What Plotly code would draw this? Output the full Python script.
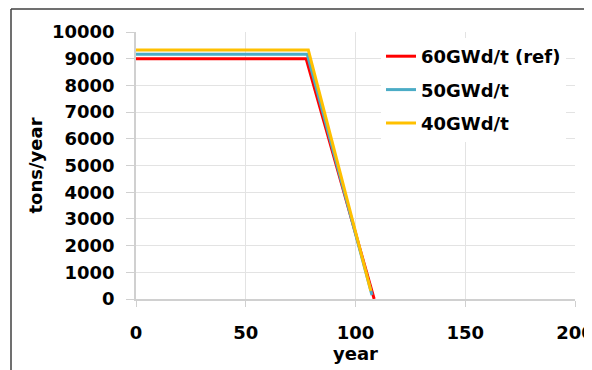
import plotly.graph_objects as go

# Data
years_60 = [0, 77.5, 108.5]
tons_60 = [9000, 9000, 0]
years_50 = [0, 78, 107.5]
tons_50 = [9170, 9170, 150]
years_40 = [0, 78.5, 107]
tons_40 = [9330, 9330, 300]

series = [
    ("60GWd/t (ref)", years_60, tons_60, "#FF0000"),
    ("50GWd/t", years_50, tons_50, "#4BACC6"),
    ("40GWd/t", years_40, tons_40, "#FFC000"),
]

x_ticks = [0, 50, 100, 150, 200]
y_ticks = [0, 1000, 2000, 3000, 4000, 5000, 6000, 7000, 8000, 9000, 10000]

FONT = "DejaVu Sans"
fig = go.Figure()
for name, xs, ys, col in series:
    fig.add_trace(go.Scatter(x=xs, y=ys, mode="lines", name=name, legendgroup=name,
                             line=dict(color=col, width=3)))

# page has an 8px body margin; figure drawn at offset (8, 8)
W, H = 584, 362
L, R, T, B = 128, 17, 24, 71
pw, ph = W - L - R, H - T - B

def px_x(p):
    return (p - L) / pw

def px_y(p):
    return (H - B - p) / ph

bold = dict(family=FONT, size=18, color="#000000", weight="bold")

fig.update_layout(
    width=W, height=H,
    margin=dict(l=L, r=R, t=T, b=B, autoexpand=False),
    paper_bgcolor="white", plot_bgcolor="white",
    font=bold,
    showlegend=True,
    legend=dict(x=px_x(373), y=px_y(30), xanchor="left", yanchor="top",
                bgcolor="rgba(255,255,255,1)", font=bold,
                tracegroupgap=7, itemwidth=30),
    xaxis=dict(range=[0, 200], tickvals=x_ticks, ticktext=[str(v) for v in x_ticks],
               showgrid=True, gridcolor="#E3E3E3", automargin=False,
               gridwidth=1, zeroline=False, showline=True, linecolor="#D0D0D0",
               linewidth=1.5, ticks="outside", ticklen=6, tickcolor="#D0D0D0",
               tickfont=bold, ticklabelstandoff=11, ticklabeloverflow="allow",
               title=dict(text="year", standoff=0, font=bold)),
    yaxis=dict(range=[0, 10000], tickvals=y_ticks, ticktext=[str(v) for v in y_ticks],
               showgrid=True, gridcolor="#E3E3E3", automargin=False,
               gridwidth=1, zeroline=False, showline=True, linecolor="#D0D0D0",
               linewidth=1.5, ticks="outside", ticklen=8, tickcolor="#D0D0D0",
               tickfont=bold, ticklabelstandoff=8,
               title=dict(text="tons/year", standoff=5, font=bold)),
)

# Figure frame (top and left border lines)
fig.add_shape(type="line", xref="paper", yref="paper",
              x0=px_x(3), x1=px_x(600), y0=px_y(1), y1=px_y(1),
              line=dict(color="#404040", width=1.5))
fig.add_shape(type="line", xref="paper", yref="paper",
              x0=px_x(3), x1=px_x(3), y0=px_y(1), y1=px_y(380),
              line=dict(color="#404040", width=1.5))

fig.write_html("out.html")
